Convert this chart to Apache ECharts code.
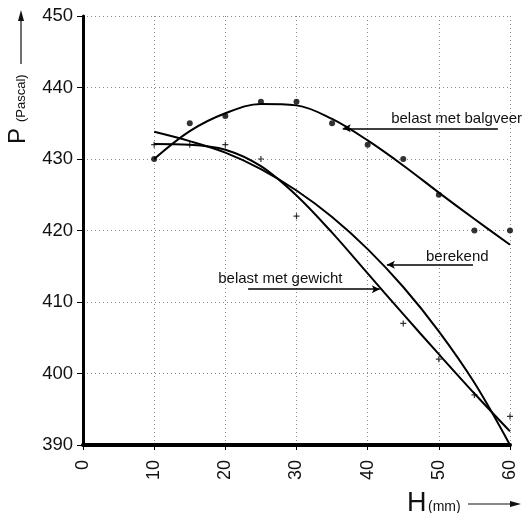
<!DOCTYPE html>
<html>
<head>
<meta charset="utf-8">
<script src="https://cdn.jsdelivr.net/npm/echarts@6/dist/echarts.min.js"></script>
<style>
  html, body { margin: 0; padding: 0; background: #fff; }
  #chart { width: 522px; height: 513px; }
</style>
</head>
<body>
<div id="chart"></div>
<script>
// Stroke height H (mm) at which the curves are sampled
const hSteps = [10, 15, 20, 25, 30, 35, 40, 45, 50, 55, 60];

// Pressure P (Pascal): loaded with bellows spring (measured and fitted)
const balgveerMeasured = [430, 435, 436, 438, 438, 435, 432, 430, 425, 420, 420];
const balgveerCurve = [430, 433.9, 436.4, 437.7, 437.5, 435.6, 432.6, 429.1, 425.3, 421.6, 418.0];

// Calculated pressure
const berekendCurve = [433.8, 432.5, 430.9, 428.6, 425.6, 421.9, 417.4, 412.1, 405.9, 398.7, 390.0];

// Loaded with weight (measured and fitted)
const gewichtH = [10, 15, 20, 25, 30, 45, 50, 55, 60];
const gewichtMeasured = [432, 432, 432, 430, 422, 407, 402, 397, 394];
const gewichtCurve = [432.1, 432.0, 431.3, 429.0, 424.9, 419.7, 414.0, 408.3, 402.7, 397.2, 391.9];

// Axis ticks
const xTicks = [0, 10, 20, 30, 40, 50, 60];
const yTicks = [390, 400, 410, 420, 430, 440, 450];

// Annotation texts
const labels = ['belast met balgveer', 'berekend', 'belast met gewicht'];

const FONT = '"Liberation Sans", Arial, Helvetica, sans-serif';
const pairs = (xs, ys) => xs.map((x, i) => [x, ys[i]]);

const plusPath = 'path://M4,0h2v4h4v2h-4v4h-2v-4h-4v-2h4z';

const chart = echarts.init(document.getElementById('chart'), null, { renderer: 'canvas' });

const curveStyle = { color: '#000', width: 2 };

// Horizontal pointer line with an arrow head at one end
function pointer(x1, x2, y, arrowAtStart) {
  return {
    silent: true,
    symbolSize: [6, 8],
    lineStyle: { color: '#000', width: 1.5, type: 'solid' },
    label: { show: false },
    emphasis: { disabled: true },
    data: [[
      { coord: [x1, y], symbol: arrowAtStart ? 'arrow' : 'none' },
      { coord: [x2, y], symbol: arrowAtStart ? 'none' : 'arrow' }
    ]]
  };
}

chart.setOption({
  animation: false,
  backgroundColor: '#fff',
  grid: { left: 83, right: 12, top: 16, bottom: 68, containLabel: false },
  xAxis: {
    type: 'value',
    min: xTicks[0],
    max: xTicks[xTicks.length - 1],
    interval: 10,
    axisLine: { show: true, onZero: false, lineStyle: { color: '#000', width: 4 } },
    axisTick: { show: true, length: 5, lineStyle: { color: '#000', width: 1 } },
    axisLabel: { rotate: 90, margin: 15, fontSize: 18, color: '#111', fontFamily: FONT },
    splitLine: { show: true, lineStyle: { color: '#888', width: 1, type: [1, 3] } }
  },
  yAxis: {
    type: 'value',
    min: yTicks[0],
    max: yTicks[yTicks.length - 1],
    interval: 10,
    axisLine: { show: true, onZero: false, lineStyle: { color: '#000', width: 3 } },
    axisTick: { show: true, length: 6, lineStyle: { color: '#000', width: 1 } },
    axisLabel: { margin: 10, fontSize: 18.5, color: '#111', fontFamily: FONT },
    splitLine: { show: true, lineStyle: { color: '#888', width: 1, type: [1, 3] } }
  },
  series: [
    {
      name: 'balgveer curve', type: 'line', smooth: 0.35, showSymbol: false,
      data: pairs(hSteps, balgveerCurve), lineStyle: curveStyle, z: 3,
      markLine: pointer(36.5, 58.3, 434.3, true)
    },
    {
      name: 'berekend', type: 'line', smooth: 0.35, showSymbol: false,
      data: pairs(hSteps, berekendCurve), lineStyle: curveStyle, z: 3,
      markLine: pointer(42.7, 54.8, 415.2, true)
    },
    {
      name: 'gewicht curve', type: 'line', smooth: 0.35, showSymbol: false,
      data: pairs(hSteps, gewichtCurve), lineStyle: curveStyle, z: 3,
      markLine: pointer(23.2, 41.7, 411.8, false)
    },
    {
      name: 'balgveer', type: 'scatter', symbol: 'circle', symbolSize: 6,
      itemStyle: { color: '#000' }, data: pairs(hSteps, balgveerMeasured), z: 4
    },
    {
      name: 'gewicht', type: 'scatter', symbol: plusPath, symbolSize: 6,
      itemStyle: { color: '#000' }, data: pairs(gewichtH, gewichtMeasured), z: 4
    }
  ]
});

// Annotation texts, anchored in data coordinates
const annot = [
  { text: labels[0], at: [43.3, 434.6] },
  { text: labels[1], at: [48.2, 415.3] },
  { text: labels[2], at: [19.0, 412.2] }
];

const graphics = annot.map(a => {
  const p = chart.convertToPixel({ gridIndex: 0 }, a.at);
  return {
    type: 'text', x: p[0], y: p[1], z: 10,
    style: { text: a.text, fill: '#111', font: '15px ' + FONT, textAlign: 'left', textVerticalAlign: 'bottom' }
  };
});

// Axis titles with arrows
function title(text, x, y, size, rotation) {
  return {
    type: 'text', x: x, y: y, rotation: rotation || 0, z: 10,
    style: { text: text, fill: '#111', font: size + 'px ' + FONT, textAlign: 'left', textVerticalAlign: 'middle' }
  };
}

graphics.push(
  title('P', 18.5, 144, 24, Math.PI / 2),
  title('(Pascal)', 21.3, 122, 13, Math.PI / 2),
  { type: 'line', z: 10, shape: { x1: 21, y1: 64, x2: 21, y2: 18 }, style: { stroke: '#111', lineWidth: 1.2 } },
  { type: 'polygon', z: 10, shape: { points: [[21, 10], [18, 21], [24, 21]] }, style: { fill: '#111' } },
  title('H', 407, 504, 27),
  title('(mm)', 428, 507.5, 14),
  { type: 'line', z: 10, shape: { x1: 468, y1: 504, x2: 512, y2: 504 }, style: { stroke: '#111', lineWidth: 1.2 } },
  { type: 'polygon', z: 10, shape: { points: [[521, 504], [510, 501], [510, 507]] }, style: { fill: '#111' } }
);

chart.setOption({ graphic: graphics });
</script>
</body>
</html>
